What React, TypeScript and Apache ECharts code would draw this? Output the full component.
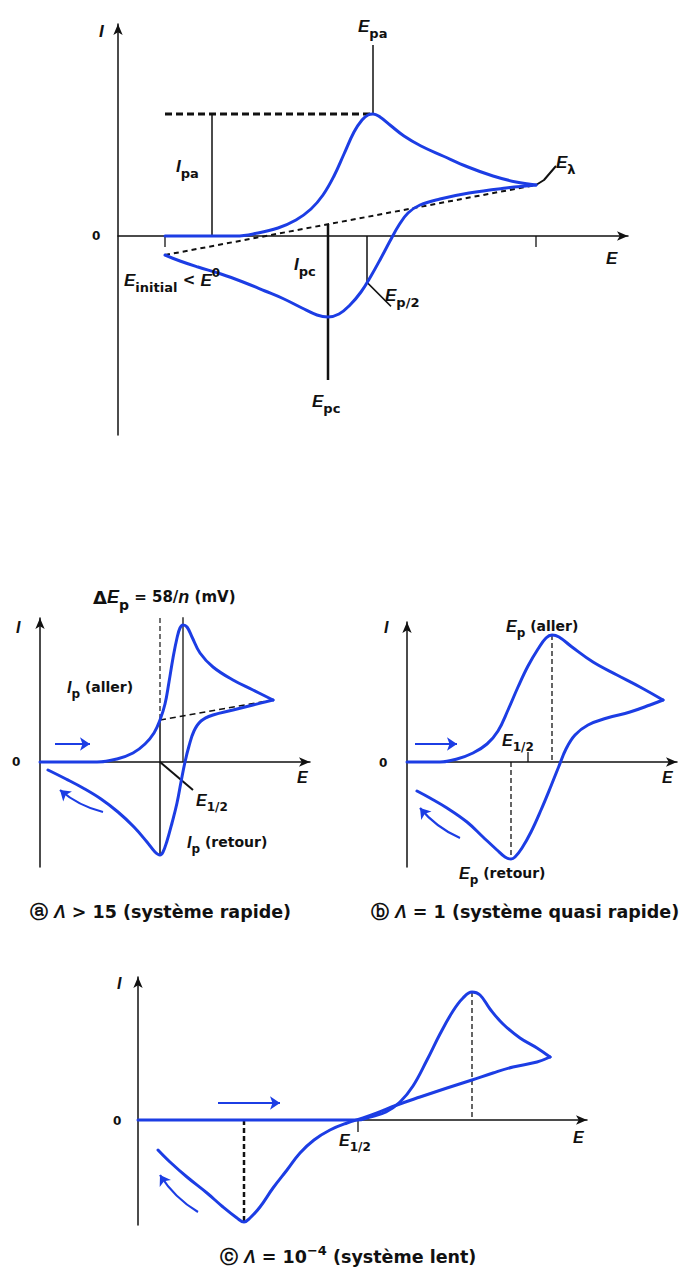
import React, { useEffect, useRef } from 'react';
import * as echarts from 'echarts';

type Pt = [number, number];

// ---- Data (E and I in arbitrary units, origin at the axes crossing) ----
// Main voltammogram
const mainForward: Pt[] = [[47, 0], [118, 0], [140, 3], [160, 8], [178, 16], [193, 27], [205, 41], [216, 60], [226, 82], [236, 104], [244, 116], [250, 121], [255, 122], [262, 119], [272, 111], [286, 100], [303, 90], [325, 80], [350, 69], [375, 60], [398, 54], [418, 51]];
const mainReverse: Pt[] = [[418, 51], [388, 48], [351, 43], [322, 37], [302, 31], [290, 23], [281, 11], [272, -5], [263, -22], [253, -40], [243, -56], [232, -69], [221, -78], [210, -81], [199, -79], [184, -72], [166, -63], [147, -55], [125, -46], [103, -38], [80, -31], [62, -25], [47, -19]];
const mainIpaE = 94;
const mainEp2 = 249;
const mainEpcBottom = -144;
const mainEpaTop = 191;

// (a) fast system
const aForward: Pt[] = [[0, 0], [57, 0], [77, 3], [93, 9], [105, 18], [114, 29], [120, 42], [125, 58], [129, 80], [133, 104], [137, 124], [140, 134], [143, 137], [147, 135], [152, 125], [160, 109], [173, 95], [193, 82], [213, 72], [233, 62]];
const aReverse: Pt[] = [[233, 62], [213, 57], [193, 52], [173, 47], [161, 41], [154, 31], [149, 16], [145, 0], [141, -20], [137, -41], [132, -61], [127, -79], [123, -90], [120, -93], [115, -90], [107, -80], [94, -65], [78, -50], [61, -37], [43, -26], [26, -17], [8, -8]];
const aTopI = 152;
const aDeltaI = 150;

// (b) quasi-fast system
const bForward: Pt[] = [[0, 0], [33, 0], [50, 3], [66, 9], [80, 18], [91, 31], [101, 52], [111, 75], [121, 96], [131, 113], [139, 124], [145, 127], [152, 125], [165, 115], [186, 100], [210, 87], [233, 75], [256, 62]];
const bReverse: Pt[] = [[256, 62], [243, 57], [223, 50], [200, 44], [181, 37], [168, 27], [159, 13], [152, -4], [144, -24], [134, -48], [124, -70], [115, -86], [108, -95], [104, -97], [98, -95], [90, -88], [76, -75], [60, -60], [40, -46], [23, -36], [10, -29]];
const bHalf = 121;

// (c) slow system
const cForward: Pt[] = [[0, 0], [219, 0], [232, 3], [248, 8], [262, 18], [275, 34], [289, 60], [302, 86], [315, 109], [325, 122], [334, 128], [342, 125], [352, 111], [365, 96], [382, 82], [399, 72], [412, 63]];
const cReverse: Pt[] = [[412, 63], [399, 58], [375, 53], [355, 47], [334, 40], [309, 32], [282, 23], [259, 15], [239, 7], [225, 2], [209, -3], [192, -10], [176, -20], [162, -33], [149, -50], [135, -68], [122, -87], [112, -98], [106, -102], [99, -98], [85, -87], [69, -73], [49, -57], [32, -42], [20, -30]];
const cHalf = 220;

// Scan-direction arrows: [from, to]
const aArrows: Pt[][] = [[[15, 18], [50, 18]], [[63, -50], [20, -28]]];
const bArrows: Pt[][] = [[[8, 18], [50, 18]], [[53, -76], [13, -46]]];
const cArrows: Pt[][] = [[[80, 17], [142, 17]], [[60, -92], [22, -55]]];

// ---- Layout ----
const grids = [
  { left: 118, top: 24, width: 510, height: 411, iMax: 212 },
  { left: 40, top: 618, width: 270, height: 249, iMax: 144 },
  { left: 407, top: 622, width: 270, height: 245, iMax: 140 },
  { left: 138, top: 977, width: 449, height: 248, iMax: 143 },
];

const ITAL = '"Liberation Sans", Arial, sans-serif';
const FAM = '"DejaVu Sans", "Liberation Sans", sans-serif';
const INK = '#111111';
const BLUE = '#1c3de4';

const peakOf = (d: Pt[]) => d.reduce((a, b) => (b[1] > a[1] ? b : a));
const troughOf = (d: Pt[]) => d.reduce((a, b) => (b[1] < a[1] ? b : a));
const interpI = (d: Pt[], e: number) => {
  for (let k = 0; k < d.length - 1; k++) {
    const [e1, i1] = d[k];
    const [e2, i2] = d[k + 1];
    if ((e - e1) * (e - e2) <= 0 && e1 !== e2) return i1 + ((e - e1) / (e2 - e1)) * (i2 - i1);
  }
  return 0;
};

const curve = (g: number, data: Pt[], width = 3) => ({
  type: 'line', xAxisIndex: g, yAxisIndex: g, data, smooth: 0.4, symbol: 'none', silent: true, z: 5,
  lineStyle: { color: BLUE, width, cap: 'round', join: 'round' },
});
const seg = (g: number, data: Pt[], width = 1.5, type: any = 'solid') => ({
  type: 'line', xAxisIndex: g, yAxisIndex: g, data, symbol: 'none', silent: true, z: 4,
  lineStyle: { color: INK, width, type },
});
const arrows = (g: number, list: Pt[][], curveness = 0.12) =>
  list.map((c, k) => ({
    type: 'lines', coordinateSystem: 'cartesian2d', xAxisIndex: g, yAxisIndex: g, silent: true, z: 5,
    data: [{ coords: c }], symbol: ['none', 'arrow'], symbolSize: 10,
    lineStyle: { color: BLUE, width: 2.2, opacity: 1, curveness: k === 0 ? 0 : curveness },
  }));

// ---- Text with italic letters, subscripts and superscripts ----
const measureCtx = typeof document !== 'undefined' ? document.createElement('canvas').getContext('2d') : null;
type Seg = [string, 'i' | 'sub' | 'sup' | 'b' | 'n'];
function label(x: number, y: number, segs: Seg[], size = 16): any[] {
  const out: any[] = [];
  let cx = x;
  for (const [t, k] of segs) {
    let font = `bold ${size}px ${FAM}`;
    let dy = 0;
    if (k === 'i') font = `italic bold ${size}px ${ITAL}`;
    else if (k === 'sub') { font = `bold ${Math.round(size * 0.78)}px ${FAM}`; dy = size * 0.42; }
    else if (k === 'sup') { font = `bold ${Math.round(size * 0.72)}px ${FAM}`; dy = -size * 0.4; }
    else if (k === 'b') font = `bold ${Math.round(size * 0.86)}px ${FAM}`;
    let w = t.length * size * 0.6;
    if (measureCtx) { measureCtx.font = font; w = measureCtx.measureText(t).width; }
    out.push({
      type: 'text', x: cx, y: y + dy, silent: true, z: 10,
      style: { text: t, font, fill: INK, textAlign: 'left', textVerticalAlign: 'middle', align: 'left', verticalAlign: 'middle' },
    });
    cx += w;
  }
  return out;
}

export default function App() {
  const ref = useRef<HTMLDivElement>(null);

  useEffect(() => {
    document.body.style.margin = '0';
    if (!ref.current) return;
    const chart = echarts.init(ref.current, undefined, { renderer: 'svg' });

    const mPeak = peakOf(mainForward);
    const mTrough = troughOf(mainReverse);
    const mStart = mainReverse[mainReverse.length - 1];
    const mLambda = mainForward[mainForward.length - 1];
    const baseAt = (e: number) => mStart[1] + ((e - mStart[0]) / (mLambda[0] - mStart[0])) * (mLambda[1] - mStart[1]);
    const ep2I = interpI(mainReverse, mainEp2);

    const aPeak = peakOf(aForward);
    const aTrough = troughOf(aReverse);
    const aLambda = aForward[aForward.length - 1];
    const aBaseI = interpI(aForward, aTrough[0]);

    const bPeak = peakOf(bForward);
    const bTrough = troughOf(bReverse);
    const cPeak = peakOf(cForward);
    const cTrough = troughOf(cReverse);

    const axisLine = { show: true, onZero: true, symbol: ['none', 'arrow'], symbolSize: [7, 11], lineStyle: { color: INK, width: 1.5 } };

    const series: any[] = [
      // main panel annotations
      seg(0, [[mStart[0], mPeak[1]], mPeak], 3, [7, 4]),
      seg(0, [mPeak, [mPeak[0], mainEpaTop]], 1.5),
      seg(0, [[mainIpaE, 0], [mainIpaE, mPeak[1]]], 1.5),
      seg(0, [mStart, mLambda], 2, [5, 4]),
      seg(0, [[mTrough[0], baseAt(mTrough[0])], [mTrough[0], mainEpcBottom]], 2.5),
      seg(0, [[mLambda[0], 0], [mLambda[0], -11]], 1.3),
      seg(0, [[mStart[0], 0], [mStart[0], -11]], 1.3),
      seg(0, [[mainEp2, 0], [mainEp2, ep2I]], 1.5),
      seg(0, [[mainEp2, ep2I], [mainEp2 + 24, ep2I - 24]], 1.5),
      seg(0, [mLambda, [mLambda[0] + 8, mLambda[1] + 5], [mLambda[0] + 20, mLambda[1] + 19]], 2),
      curve(0, mainForward),
      curve(0, mainReverse),

      // (a)
      seg(1, [[aTrough[0], aTopI], [aTrough[0], aBaseI]], 1.2, [5, 3]),
      seg(1, [[aTrough[0], aBaseI], aTrough], 1.5),
      seg(1, [[aPeak[0], aTopI], [aPeak[0], 0]], 1.3),
      seg(1, [[aTrough[0], aBaseI], aLambda], 1.6, [6, 4]),
      seg(1, [[aTrough[0], 0], [aTrough[0] + 33, -28]], 2),
      {
        type: 'lines', coordinateSystem: 'cartesian2d', xAxisIndex: 1, yAxisIndex: 1, silent: true, z: 5,
        data: [{ coords: [[aTrough[0] - 10, aDeltaI], [aPeak[0] + 11, aDeltaI]] }],
        symbol: ['arrow', 'arrow'], symbolSize: 5, lineStyle: { color: INK, width: 1.2, opacity: 1 },
      },
      curve(1, aForward),
      curve(1, aReverse),
      ...arrows(1, aArrows),

      // (b)
      seg(2, [bPeak, [bPeak[0], 0]], 1.3, [5, 3]),
      seg(2, [[bTrough[0], 0], bTrough], 1.3, [5, 3]),
      seg(2, [[bHalf, 0], [bHalf, 10]], 1.3),
      curve(2, bForward),
      curve(2, bReverse),
      ...arrows(2, bArrows),

      // (c)
      seg(3, [cPeak, [cPeak[0], 0]], 1.3, [5, 3]),
      seg(3, [[cTrough[0], 0], cTrough], 2.5, [5, 3]),
      seg(3, [[cHalf, 0], [cHalf, -12]], 1.3),
      curve(3, cForward),
      curve(3, cReverse),
      ...arrows(3, cArrows),
    ];

    const graphic: any[] = [
      // main panel
      ...label(99, 31, [['I', 'i']], 17),
      ...label(92, 236, [['0', 'n']], 12),
      ...label(606, 258, [['E', 'i']], 17),
      ...label(358, 26, [['E', 'i'], ['pa', 'sub']], 17),
      ...label(176, 166, [['I', 'i'], ['pa', 'sub']], 17),
      ...label(294, 264, [['I', 'i'], ['pc', 'sub']], 17),
      ...label(312, 401, [['E', 'i'], ['pc', 'sub']], 17),
      ...label(124, 280, [['E', 'i'], ['initial', 'sub'], [' < ', 'b'], ['E', 'i'], ['0', 'sup']], 17),
      ...label(385, 295, [['E', 'i'], ['p/2', 'sub']], 17),
      ...label(556, 162, [['E', 'i'], ['λ', 'sub']], 17),

      // (a)
      ...label(16, 627, [['I', 'i']], 16),
      ...label(12, 762, [['0', 'n']], 12),
      ...label(297, 777, [['E', 'i']], 16),
      ...label(93, 597, [['Δ', 'n'], ['E', 'i'], ['p', 'sub'], [' = 58/', 'b'], ['n', 'i'], [' (mV)', 'b']], 18),
      ...label(67, 687, [['I', 'i'], ['p', 'sub'], [' (aller)', 'b']], 16),
      ...label(196, 800, [['E', 'i'], ['1/2', 'sub']], 16),
      ...label(187, 842, [['I', 'i'], ['p', 'sub'], [' (retour)', 'b']], 16),
      ...label(30, 912, [['ⓐ ', 'n'], ['Λ', 'i'], [' > 15 (système rapide)', 'n']], 17.5),

      // (b)
      ...label(384, 627, [['I', 'i']], 16),
      ...label(379, 763, [['0', 'n']], 12),
      ...label(662, 777, [['E', 'i']], 16),
      ...label(506, 626, [['E', 'i'], ['p', 'sub'], [' (aller)', 'b']], 16),
      ...label(502, 740, [['E', 'i'], ['1/2', 'sub']], 16),
      ...label(459, 873, [['E', 'i'], ['p', 'sub'], [' (retour)', 'b']], 16),
      ...label(371, 912, [['ⓑ ', 'n'], ['Λ', 'i'], [' = 1 (système quasi rapide)', 'n']], 17.5),

      // (c)
      ...label(117, 983, [['I', 'i']], 16),
      ...label(113, 1121, [['0', 'n']], 12),
      ...label(573, 1137, [['E', 'i']], 16),
      ...label(339, 1140, [['E', 'i'], ['1/2', 'sub']], 16),
      ...label(220, 1257, [['ⓒ ', 'n'], ['Λ', 'i'], [' = 10', 'n'], ['−4', 'sup'], [' (système lent)', 'n']], 17.5),
    ];

    chart.setOption({
      animation: false,
      backgroundColor: '#ffffff',
      grid: grids.map((g) => ({ left: g.left, top: g.top, width: g.width, height: g.height, containLabel: false })),
      xAxis: grids.map((g, i) => ({
        gridIndex: i, type: 'value', min: 0, max: g.width,
        axisLine, axisTick: { show: false }, axisLabel: { show: false }, splitLine: { show: false },
      })),
      yAxis: grids.map((g, i) => ({
        gridIndex: i, type: 'value', min: g.iMax - g.height, max: g.iMax,
        axisLine, axisTick: { show: false }, axisLabel: { show: false }, splitLine: { show: false },
      })),
      series,
      graphic,
    });

    return () => chart.dispose();
  }, []);

  return <div ref={ref} style={{ width: 687, height: 1272 }} />;
}
